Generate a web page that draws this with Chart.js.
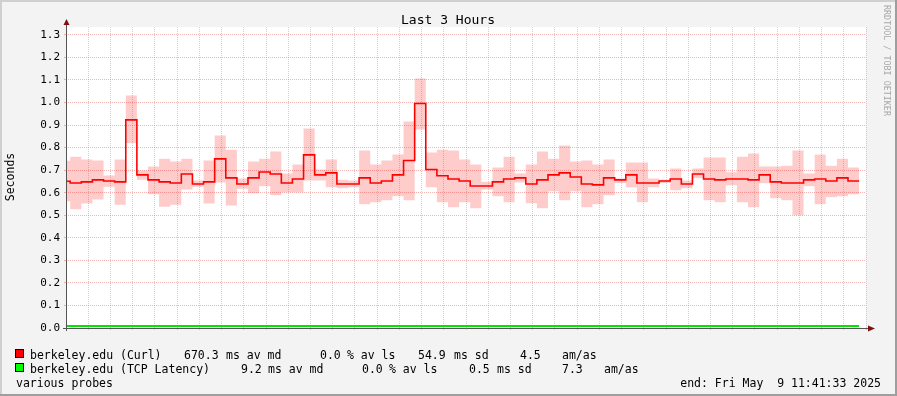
<!DOCTYPE html>
<html>
<head>
<meta charset="utf-8">
<script src="https://cdn.jsdelivr.net/npm/chart.js@4/dist/chart.umd.min.js"></script>
<style>
  html, body { margin: 0; padding: 0; background: #f3f3f3; }
  #wrap { width: 897px; height: 396px; }
</style>
</head>
<body>
<div id="wrap"><canvas id="chart" width="897" height="396" style="width:897px;height:396px"></canvas></div>
<script>
// time axis: minutes relative to 09:00, one value every 2.5 min
const firstStep = -20;
const stepMinutes = 2.5;
const viewMin = -18.45;   // 08:41:33
const viewMax = 161.55;   // 11:41:33

// berkeley.edu (Curl) median, seconds
const curlMedian = [
  0.651, 0.643, 0.648, 0.657, 0.652, 0.648, 0.923, 0.679, 0.657, 0.648,
  0.643, 0.683, 0.639, 0.648, 0.750, 0.666, 0.639, 0.666, 0.692, 0.683,
  0.643, 0.661, 0.768, 0.679, 0.688, 0.639, 0.639, 0.666, 0.643, 0.652,
  0.679, 0.743, 0.996, 0.703, 0.675, 0.661, 0.652, 0.630, 0.630, 0.648,
  0.661, 0.666, 0.639, 0.657, 0.679, 0.688, 0.670, 0.639, 0.635, 0.666,
  0.657, 0.679, 0.643, 0.643, 0.652, 0.661, 0.639, 0.683, 0.661, 0.657,
  0.661, 0.661, 0.657, 0.679, 0.648, 0.643, 0.643, 0.657, 0.661, 0.652,
  0.666, 0.652
];
// smoke band top / bottom
const curlHigh = [
  0.742, 0.759, 0.747, 0.743, 0.676, 0.747, 1.031, 0.698, 0.716, 0.751,
  0.738, 0.751, 0.654, 0.743, 0.854, 0.791, 0.663, 0.738, 0.751, 0.783,
  0.685, 0.725, 0.885, 0.703, 0.747, 0.658, 0.654, 0.787, 0.725, 0.743,
  0.769, 0.916, 1.107, 0.778, 0.791, 0.787, 0.747, 0.725, 0.649, 0.712,
  0.760, 0.685, 0.725, 0.783, 0.751, 0.809, 0.738, 0.743, 0.725, 0.747,
  0.663, 0.734, 0.734, 0.663, 0.658, 0.707, 0.654, 0.707, 0.756, 0.756,
  0.691, 0.760, 0.774, 0.716, 0.716, 0.720, 0.787, 0.685, 0.769, 0.720,
  0.751, 0.712
];
const curlLow = [
  0.562, 0.527, 0.552, 0.570, 0.627, 0.547, 0.820, 0.658, 0.593, 0.538,
  0.547, 0.614, 0.627, 0.552, 0.645, 0.543, 0.618, 0.598, 0.629, 0.589,
  0.602, 0.602, 0.654, 0.654, 0.624, 0.620, 0.624, 0.549, 0.558, 0.567,
  0.584, 0.567, 0.880, 0.624, 0.558, 0.536, 0.558, 0.531, 0.614, 0.584,
  0.558, 0.645, 0.553, 0.531, 0.607, 0.567, 0.607, 0.536, 0.549, 0.589,
  0.643, 0.624, 0.558, 0.624, 0.643, 0.611, 0.620, 0.664, 0.567, 0.558,
  0.633, 0.558, 0.536, 0.642, 0.575, 0.567, 0.500, 0.629, 0.549, 0.580,
  0.584, 0.593
];
// berkeley.edu (TCP Latency) median, seconds
const tcpMedian = [
  0.0092, 0.0092, 0.0093, 0.0092, 0.0091, 0.0092, 0.0092, 0.0093, 0.0092, 0.0092,
  0.0091, 0.0092, 0.0092, 0.0092, 0.0093, 0.0092, 0.0092, 0.0091, 0.0092, 0.0092,
  0.0092, 0.0093, 0.0092, 0.0092, 0.0092, 0.0091, 0.0092, 0.0092, 0.0092, 0.0093,
  0.0092, 0.0092, 0.0091, 0.0092, 0.0092, 0.0092, 0.0093, 0.0092, 0.0092, 0.0092,
  0.0091, 0.0092, 0.0092, 0.0092, 0.0093, 0.0092, 0.0092, 0.0091, 0.0092, 0.0092,
  0.0092, 0.0093, 0.0092, 0.0092, 0.0092, 0.0091, 0.0092, 0.0092, 0.0092, 0.0093,
  0.0092, 0.0092, 0.0091, 0.0092, 0.0092, 0.0092, 0.0093, 0.0092, 0.0092, 0.0092,
  0.0092, 0.0092
];

const yTicks = [0.0, 0.1, 0.2, 0.3, 0.4, 0.5, 0.6, 0.7, 0.8, 0.9, 1.0, 1.1, 1.2, 1.3];
const xMajorEvery = 20;   // labelled grid every 20 min
const legendRows = [
  { color: '#ff0000', parts: [[30, 'berkeley.edu (Curl)'], [184, '670.3'], [226, 'ms av md'], [320, '0.0'], [347, '% av ls'], [418, '54.9'], [454, 'ms sd'], [520, '4.5'], [562, 'am/as']] },
  { color: '#00ff00', parts: [[30, 'berkeley.edu (TCP Latency)'], [241, '9.2'], [268, 'ms av md'], [362, '0.0'], [389, '% av ls'], [469, '0.5'], [497, 'ms sd'], [562, '7.3'], [604, 'am/as']] }
];

const MONO = '"DejaVu Sans Mono", monospace';
const GRID = 'rgba(140, 140, 140, 0.4)';
const MGRID = 'rgba(235, 90, 90, 0.45)';

// step points: each value holds from its start until the next one
function steps(values) {
  const pts = values.map((v, i) => ({ x: firstStep + i * stepMinutes, y: v }));
  pts.push({ x: firstStep + values.length * stepMinutes, y: values[values.length - 1] });
  return pts;
}

function clock(min) {
  const t = 9 * 60 + min;
  const h = Math.floor(t / 60), m = t % 60;
  return String(h).padStart(2, '0') + ':' + String(m).padStart(2, '0');
}

// background, frame, titles, legend and axis arrows
const rrdLook = {
  id: 'rrdLook',
  beforeDraw(chart) {
    const { ctx, chartArea: a, width, height } = chart;
    ctx.save();
    ctx.fillStyle = '#f3f3f3';
    ctx.fillRect(0, 0, width, height);
    ctx.fillStyle = '#cfcfcf';
    ctx.fillRect(0, 0, width, 2);
    ctx.fillRect(0, 0, 2, height);
    ctx.fillStyle = '#9e9e9e';
    ctx.fillRect(0, height - 2, width, 2);
    ctx.fillRect(width - 2, 0, 2, height);
    ctx.fillStyle = '#ffffff';
    ctx.fillRect(a.left, a.top, a.right - a.left, a.bottom - a.top);
    ctx.restore();
  },
  afterDraw(chart) {
    const { ctx, chartArea: a } = chart;
    ctx.save();
    // axes
    ctx.strokeStyle = '#555';
    ctx.lineWidth = 1;
    ctx.beginPath();
    ctx.moveTo(a.left + 0.5, a.bottom + 3);
    ctx.lineTo(a.left + 0.5, a.top - 4);
    ctx.moveTo(a.left - 3, a.bottom + 0.5);
    ctx.lineTo(a.right + 4, a.bottom + 0.5);
    ctx.stroke();
    ctx.fillStyle = '#801010';
    ctx.beginPath();
    ctx.moveTo(a.left + 0.5, a.top - 8);
    ctx.lineTo(a.left - 2.5, a.top - 2);
    ctx.lineTo(a.left + 3.5, a.top - 2);
    ctx.fill();
    ctx.beginPath();
    ctx.moveTo(a.right + 9, a.bottom + 0.5);
    ctx.lineTo(a.right + 2, a.bottom - 2.5);
    ctx.lineTo(a.right + 2, a.bottom + 3.5);
    ctx.fill();

    ctx.fillStyle = '#000';
    ctx.textAlign = 'center';
    ctx.textBaseline = 'alphabetic';
    ctx.font = '13px ' + MONO;
    ctx.fillText('Last 3 Hours', 448, 24);

    ctx.save();
    ctx.translate(14, 177);
    ctx.rotate(-Math.PI / 2);
    ctx.font = '11.5px ' + MONO;
    ctx.fillText('Seconds', 0, 0);
    ctx.restore();

    ctx.save();
    ctx.translate(884, 5);
    ctx.rotate(Math.PI / 2);
    ctx.textAlign = 'left';
    ctx.fillStyle = '#a8a8a8';
    ctx.font = '8.4px ' + MONO;
    ctx.fillText('RRDTOOL / TOBI OETIKER', 0, 0);
    ctx.restore();

    // legend
    ctx.font = '11.5px ' + MONO;
    ctx.textAlign = 'left';
    legendRows.forEach((row, i) => {
      const base = 358.5 + i * 14;
      ctx.fillStyle = row.color;
      ctx.fillRect(15, base - 9.5, 9, 9);
      ctx.strokeStyle = '#000';
      ctx.strokeRect(15.5, base - 9, 8, 8);
      ctx.fillStyle = '#000';
      row.parts.forEach(([x, s]) => ctx.fillText(s, x, base));
    });
    ctx.fillText('various probes', 16, 386.5);
    ctx.textAlign = 'right';
    ctx.fillText('end: Fri May  9 11:41:33 2025', 881, 386.5);
    ctx.restore();
  }
};

const lineBase = { pointRadius: 0, stepped: 'before', fill: false };

new Chart(document.getElementById('chart').getContext('2d'), {
  type: 'line',
  data: {
    datasets: [
      { ...lineBase, label: 'berkeley.edu (Curl)', data: steps(curlMedian), borderColor: '#ff0000', borderWidth: 1.6 },
      { ...lineBase, label: 'berkeley.edu (TCP Latency)', data: steps(tcpMedian), borderColor: '#00e600', borderWidth: 2 },
      { ...lineBase, label: 'smoke high', data: steps(curlHigh), borderColor: 'rgba(0,0,0,0)', borderWidth: 1,
        fill: '+1', backgroundColor: 'rgba(255, 0, 0, 0.2)' },
      { ...lineBase, label: 'smoke low', data: steps(curlLow), borderColor: 'rgba(0,0,0,0)', borderWidth: 1 }
    ]
  },
  options: {
    responsive: false,
    animation: false,
    devicePixelRatio: 1,
    layout: { padding: { top: 27, right: 31, left: 0, bottom: 0 } },
    plugins: { legend: { display: false }, tooltip: { enabled: false }, title: { display: false } },
    scales: {
      x: {
        type: 'linear',
        min: viewMin,
        max: viewMax,
        afterFit: s => { s.height = 68; },
        border: { display: false, dash: [1, 1] },
        grid: {
          color: c => (c.tick && c.tick.value % xMajorEvery === 0 ? MGRID : GRID),
          tickColor: c => (c.tick && c.tick.value % xMajorEvery === 0 ? MGRID : GRID),
          tickLength: 2,
          tickBorderDash: []
        },
        ticks: {
          stepSize: 5,
          includeBounds: false,
          autoSkip: false,
          maxRotation: 0,
          padding: 0.5,
          color: '#000',
          font: { family: MONO, size: 11.5 },
          callback: v => (v % xMajorEvery === 0 ? clock(v) : '')
        }
      },
      y: {
        min: yTicks[0],
        max: 1.335,
        afterFit: s => { s.width = 66; },
        border: { display: false, dash: [1, 1] },
        grid: { color: MGRID, tickColor: MGRID, tickLength: 2, tickBorderDash: [] },
        afterBuildTicks: s => { s.ticks = yTicks.map(v => ({ value: v })); },
        ticks: {
          padding: 4,
          color: '#000',
          font: { family: MONO, size: 11 },
          callback: v => v.toFixed(1)
        }
      }
    }
  },
  plugins: [rrdLook]
});
</script>
</body>
</html>
